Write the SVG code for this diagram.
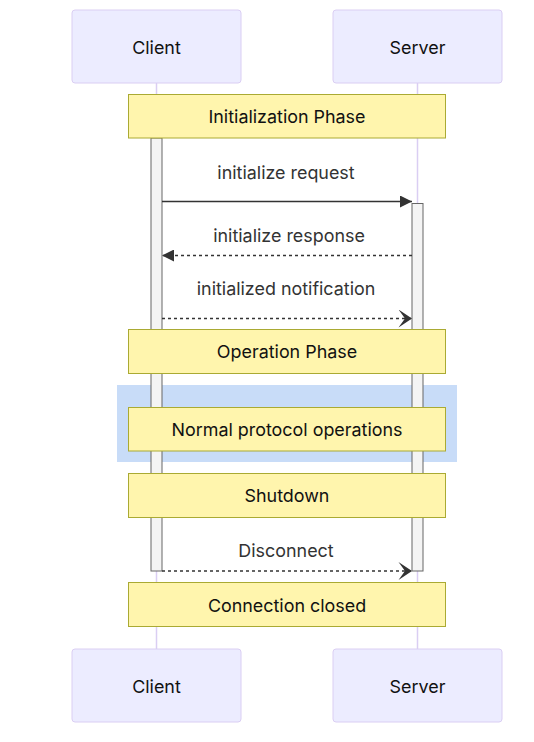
<svg xmlns="http://www.w3.org/2000/svg" width="534" height="742" viewBox="0 0 534 742">
<style>
.actor{fill:#ECECFF;stroke:#DACEF3;stroke-width:1}
.actor-t{font-family:Inter,"Liberation Sans",sans-serif;font-size:17.9px;fill:#111;text-anchor:middle;dominant-baseline:central}
.life{stroke:#DACEF3;stroke-width:1.5}
.note{fill:#FFF5AD;stroke:#AAAA33;stroke-width:1}
.note-t{font-family:Inter,"Liberation Sans",sans-serif;font-size:17.9px;fill:#111;text-anchor:middle;dominant-baseline:central}
.act{fill:#F4F4F4;stroke:#666;stroke-width:1}
.msg{stroke:#333;stroke-width:1.5;fill:none}
.dash{stroke-dasharray:3,3}
.msg-t{font-family:Inter,"Liberation Sans",sans-serif;font-size:17.9px;fill:#333;text-anchor:middle;dominant-baseline:central}
</style>
<defs>
<marker id="arrowhead" markerUnits="userSpaceOnUse" markerWidth="12" markerHeight="12" refX="12" refY="6" orient="auto">
<path d="M0,0 L12,6 L0,12 z" fill="#333"/>
</marker>
<marker id="openhead" markerUnits="userSpaceOnUse" markerWidth="15" markerHeight="18" refX="15" refY="9" orient="auto">
<path d="M15,9 L1.5,18 L8,9 L1.5,0 z" fill="#333"/>
</marker>
</defs>
<rect x="117" y="385" width="340" height="77" fill="#C8DCF8"/>
<g id="lifelines">
<line class="life" x1="156.5" y1="83" x2="156.5" y2="649"/>
<line class="life" x1="417.5" y1="83" x2="417.5" y2="649"/>
</g>
<g id="actor-client-top"><rect class="actor" x="72" y="10" width="169" height="73" rx="3"/><text class="actor-t" x="156.5" y="47">Client</text></g>
<g id="actor-server-top"><rect class="actor" x="333" y="10" width="169" height="73" rx="3"/><text class="actor-t" x="417.5" y="47">Server</text></g>
<g id="activation-client"><rect class="act" x="151" y="138" width="11" height="433"/></g>
<g id="activation-server"><rect class="act" x="412" y="203.5" width="11" height="367.5"/></g>
<g id="note-init"><rect class="note" x="128.5" y="94.5" width="317" height="43.5"/><text class="note-t" x="287" y="116.5">Initialization Phase</text></g>
<g id="note-operation"><rect class="note" x="128.5" y="329.5" width="317" height="44"/><text class="note-t" x="287" y="351.5">Operation Phase</text></g>
<g id="note-normal"><rect class="note" x="128.5" y="407.5" width="317" height="43.5"/><text class="note-t" x="287" y="429.5">Normal protocol operations</text></g>
<g id="note-shutdown"><rect class="note" x="128.5" y="473.5" width="317" height="44"/><text class="note-t" x="287" y="495.5">Shutdown</text></g>
<g id="note-closed"><rect class="note" x="128.5" y="582.5" width="317" height="44"/><text class="note-t" x="287" y="605">Connection closed</text></g>
<g id="connectors">
<line class="msg" x1="162" y1="201.5" x2="412" y2="201.5" marker-end="url(#arrowhead)"/>
<text class="msg-t" x="286" y="172">initialize request</text>
<line class="msg dash" x1="412" y1="255.5" x2="162" y2="255.5" marker-end="url(#arrowhead)"/>
<text class="msg-t" x="289" y="235">initialize response</text>
<line class="msg dash" x1="162" y1="318.5" x2="412" y2="318.5" marker-end="url(#openhead)"/>
<text class="msg-t" x="286" y="288">initialized notification</text>
<line class="msg dash" x1="162" y1="571" x2="412" y2="571" marker-end="url(#openhead)"/>
<text class="msg-t" x="286" y="550.5">Disconnect</text>
</g>
<g id="actor-client-bottom"><rect class="actor" x="72" y="649" width="169" height="73" rx="3"/><text class="actor-t" x="156.5" y="686">Client</text></g>
<g id="actor-server-bottom"><rect class="actor" x="333" y="649" width="169" height="73" rx="3"/><text class="actor-t" x="417.5" y="686">Server</text></g>
</svg>
